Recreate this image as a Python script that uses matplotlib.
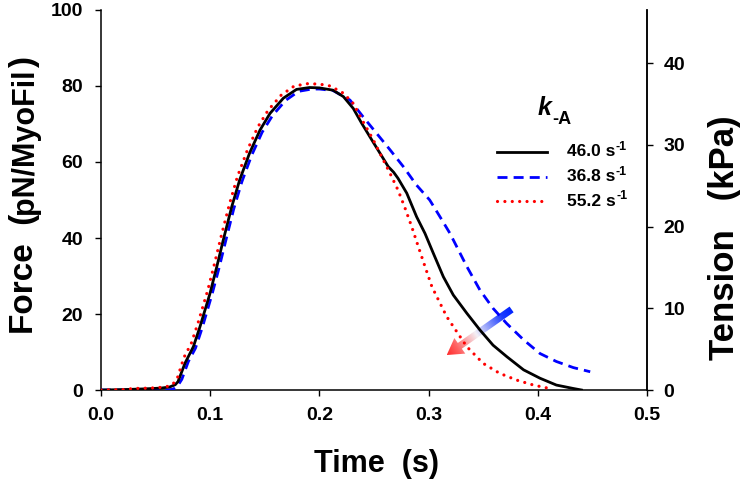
import matplotlib
matplotlib.use('Agg')
import matplotlib.pyplot as plt
import numpy as np
from matplotlib.colors import LinearSegmentedColormap
from matplotlib.patches import Polygon
from matplotlib.lines import Line2D

# ---------------- data ----------------
t_black = [0, 0.02, 0.04, 0.055, 0.063, 0.068, 0.0705, 0.077, 0.0846, 0.0907, 0.0998, 0.106,
           0.112, 0.1197, 0.127, 0.136, 0.1456, 0.1548, 0.167, 0.179, 0.191, 0.2, 0.2125,
           0.222, 0.231, 0.2387, 0.248, 0.2555, 0.263, 0.268, 0.272, 0.28, 0.289, 0.2967,
           0.3043, 0.3135, 0.3226, 0.335, 0.347, 0.359, 0.3715, 0.387, 0.402, 0.417, 0.4325, 0.44]
f_black = [0, 0.1, 0.3, 0.5, 0.8, 1.4, 2.2, 7.1, 11.4, 16.7, 25.4, 32.4,
           39.5, 48.2, 55.3, 62.3, 68.4, 72.8, 76.8, 79.1, 79.6, 79.5, 78.9,
           77.2, 74.1, 70.2, 65.8, 62.3, 58.8, 57.3, 55.7, 51.8, 45.6, 41.2,
           36.0, 29.8, 25.0, 20.2, 15.8, 11.8, 8.8, 5.3, 3.1, 1.3, 0.4, 0]

t_blue = [0, 0.03, 0.06, 0.066, 0.07, 0.074, 0.08, 0.0865, 0.0925, 0.1015, 0.108, 0.114,
          0.1215, 0.129, 0.138, 0.1475, 0.157, 0.169, 0.181, 0.193, 0.2, 0.2125, 0.228,
          0.240, 0.2525, 0.2647, 0.2768, 0.289, 0.301, 0.3104, 0.3196, 0.3288, 0.335,
          0.347, 0.359, 0.3715, 0.387, 0.402, 0.417, 0.4325, 0.448]
f_blue = [0, 0, 0, 0.2, 1.0, 2.8, 7.5, 11.0, 16.2, 25.0, 32.0, 39.0,
          47.6, 54.8, 61.8, 67.8, 72.2, 76.2, 78.6, 79.2, 79.2, 78.8, 76.3,
          71.9, 67.5, 63.2, 58.8, 53.9, 50.0, 45.6, 41.2, 36.0, 32.5,
          26.3, 21.5, 17.5, 13.2, 9.6, 7.5, 5.9, 4.8]

t_red = [0, 0.02, 0.03, 0.045, 0.055, 0.062, 0.066, 0.070, 0.076, 0.0826, 0.0887, 0.0978,
         0.104, 0.110, 0.1177, 0.125, 0.134, 0.1436, 0.153, 0.165, 0.177, 0.189, 0.2, 0.21,
         0.222, 0.231, 0.240, 0.2494, 0.257, 0.2647, 0.272, 0.278, 0.2845, 0.2906, 0.2967,
         0.303, 0.309, 0.3166, 0.3226, 0.335, 0.350, 0.365, 0.3807, 0.396, 0.414]
f_red = [0, 0.1, 0.4, 0.5, 0.7, 1.0, 1.6, 3.2, 8.6, 12.2, 17.5, 26.3,
         33.3, 40.4, 49.0, 56.2, 63.1, 69.2, 73.6, 77.6, 80.0, 80.6, 80.5, 80.0,
         78.1, 75.4, 70.6, 65.8, 61.4, 57.0, 52.6, 48.2, 43.0, 37.7, 32.5,
         27.2, 23.7, 19.3, 16.7, 11.4, 7.0, 4.4, 2.6, 1.3, 0.2]

series_values = ["46.0", "36.8", "55.2"]
rate_unit = "s"
rate_exp = "-1"
legend_symbol = "k"
legend_sub = "-A"

x_ticks = [0.0, 0.1, 0.2, 0.3, 0.4, 0.5]
y_ticks = [0, 20, 40, 60, 80, 100]
tension_ticks = [0, 10, 20, 30, 40]
tension_max = 46.5

arrow_tail = (0.376, 21.2)
arrow_tip = (0.3166, 9.2)

# ---------------- style ----------------
plt.rcParams['font.family'] = ['Liberation Sans', 'DejaVu Sans']
plt.rcParams['font.weight'] = 'bold'

W, H, DPI = 743, 486, 100
fig = plt.figure(figsize=(W / DPI, H / DPI), dpi=DPI)
ax = fig.add_axes([101 / W, 96 / H, 546 / W, 380 / H])
ax.set_xlim(0, 0.5)
ax.set_ylim(0, 100)

ax2 = ax.twinx()
ax2.set_ylim(0, tension_max)

ax.spines['top'].set_visible(False)
for s in ['top', 'left', 'bottom']:
    ax2.spines[s].set_visible(False)
for a in (ax, ax2):
    for sp in a.spines.values():
        sp.set_linewidth(1.1)

ax.set_xticks(x_ticks)
ax.set_xticklabels([f"{v:.1f}" for v in x_ticks])
ax.set_yticks(y_ticks)
ax.set_yticklabels([str(v) for v in y_ticks])
ax2.set_yticks(tension_ticks)
ax2.set_yticklabels([str(v) for v in tension_ticks])

ax.tick_params(axis='both', direction='out', length=4, width=1, labelsize=14)
ax.tick_params(axis='x', pad=8)
ax.tick_params(axis='y', pad=9)
ax2.tick_params(axis='y', direction='out', length=4, width=1, labelsize=14, pad=8)
for lab in ax.get_xticklabels() + ax.get_yticklabels() + ax2.get_yticklabels():
    lab.set_fontweight('bold')

# ---------------- curves ----------------
ax.plot(t_black, f_black, color='black', lw=2.0, zorder=5, solid_joinstyle='round')
ax.plot(t_blue, f_blue, color='#0000ff', lw=2.0, linestyle=(0, (3.6, 2.2)), zorder=4)
ax.plot(t_red, f_red, color='#ff0000', lw=2.3, linestyle=(0, (0.01, 2.3)),
        dash_capstyle='round', zorder=6)

# ---------------- gradient arrow ----------------
tail = ax.transData.transform(arrow_tail)
tip = ax.transData.transform(arrow_tip)
d = tip - tail
L = np.hypot(*d)
u = d / L
nrm = np.array([-u[1], u[0]])
sw, hw, hl = 7.0, 19.0, 16.0
base = tail + u * (L - hl)
pts_px = np.array([tail + nrm * sw / 2, base + nrm * sw / 2, base + nrm * hw / 2, tip,
                   base - nrm * hw / 2, base - nrm * sw / 2, tail - nrm * sw / 2])
inv = ax.transData.inverted()
pts_data = inv.transform(pts_px)
poly = Polygon(pts_data, closed=True, transform=ax.transData, facecolor='none', edgecolor='none')
ax.add_patch(poly)
x0, y0 = pts_data.min(axis=0)
x1, y1 = pts_data.max(axis=0)
nx, ny = 200, 200
GX, GY = np.meshgrid(np.linspace(x0, x1, nx), np.linspace(y0, y1, ny))
P = ax.transData.transform(np.column_stack([GX.ravel(), GY.ravel()]))
sval = np.clip(((P - tail) @ u) / L, 0, 1).reshape(ny, nx)
cmap = LinearSegmentedColormap.from_list(
    'arrow_grad', [(0, '#0022ff'), (0.15, '#1a3cff'), (0.55, '#f4f0f6'), (0.85, '#ff6060'), (1, '#ff2a2a')])
im = ax.imshow(sval, extent=[x0, x1, y0, y1], origin='lower', cmap=cmap, vmin=0, vmax=1,
               aspect='auto', zorder=3, interpolation='bilinear')
im.set_clip_path(poly)
ax.set_xlim(0, 0.5)
ax.set_ylim(0, 100)

# ---------------- legend (manual) ----------------
lx0, lx1, ltx = 0.725, 0.817, 0.853
rows = [0.627, 0.561, 0.497]
styles = [dict(color='black', lw=2.0),
          dict(color='#0000ff', lw=2.0, linestyle=(0, (3.6, 2.2))),
          dict(color='#ff0000', lw=2.3, linestyle=(0, (0.01, 2.3)), dash_capstyle='round')]
fig.canvas.draw()
r = fig.canvas.get_renderer()
for yy, st, val in zip(rows, styles, series_values):
    ax.add_line(Line2D([lx0, lx1], [yy, yy], transform=ax.transAxes, **st))
    tx = ax.text(ltx, yy, f"{val} {rate_unit}", transform=ax.transAxes, fontsize=12.5,
                 fontweight='bold', va='center', ha='left')
    ax.annotate(rate_exp, xy=(1.0, 1.0), xycoords=tx, xytext=(0.5, 2.5),
                textcoords='offset points', fontsize=9, fontweight='bold', ha='left', va='top')

kt = ax.text(0.799, 0.724, legend_symbol, transform=ax.transAxes, fontsize=18,
             fontweight='bold', style='italic', ha='left', va='baseline')
ax.annotate(legend_sub, xy=(1.0, 0.0), xycoords=kt, xytext=(0.5, 0.5),
            textcoords='offset points', fontsize=13, fontweight='bold', ha='left', va='center')

# ---------------- axis labels ----------------
xb = 33
yc = H - 334
for s, size in [("Force  (", 24), ("pN/MyoFil", 22), (")", 24)]:
    tt = fig.text(xb / W, yc / H, s, fontsize=size, fontweight='bold', rotation=90,
                  rotation_mode='anchor', ha='left', va='baseline')
    bb = tt.get_window_extent(r)
    yc += bb.height

fig.text(734 / W, (H - 360) / H, "Tension   (kPa)", fontsize=25, fontweight='bold', rotation=90,
         rotation_mode='anchor', ha='left', va='baseline')
fig.text(376 / W, 14 / H, "Time  (s)", fontsize=22, fontweight='bold', ha='center', va='baseline')

fig.savefig('out.png', dpi=DPI)
